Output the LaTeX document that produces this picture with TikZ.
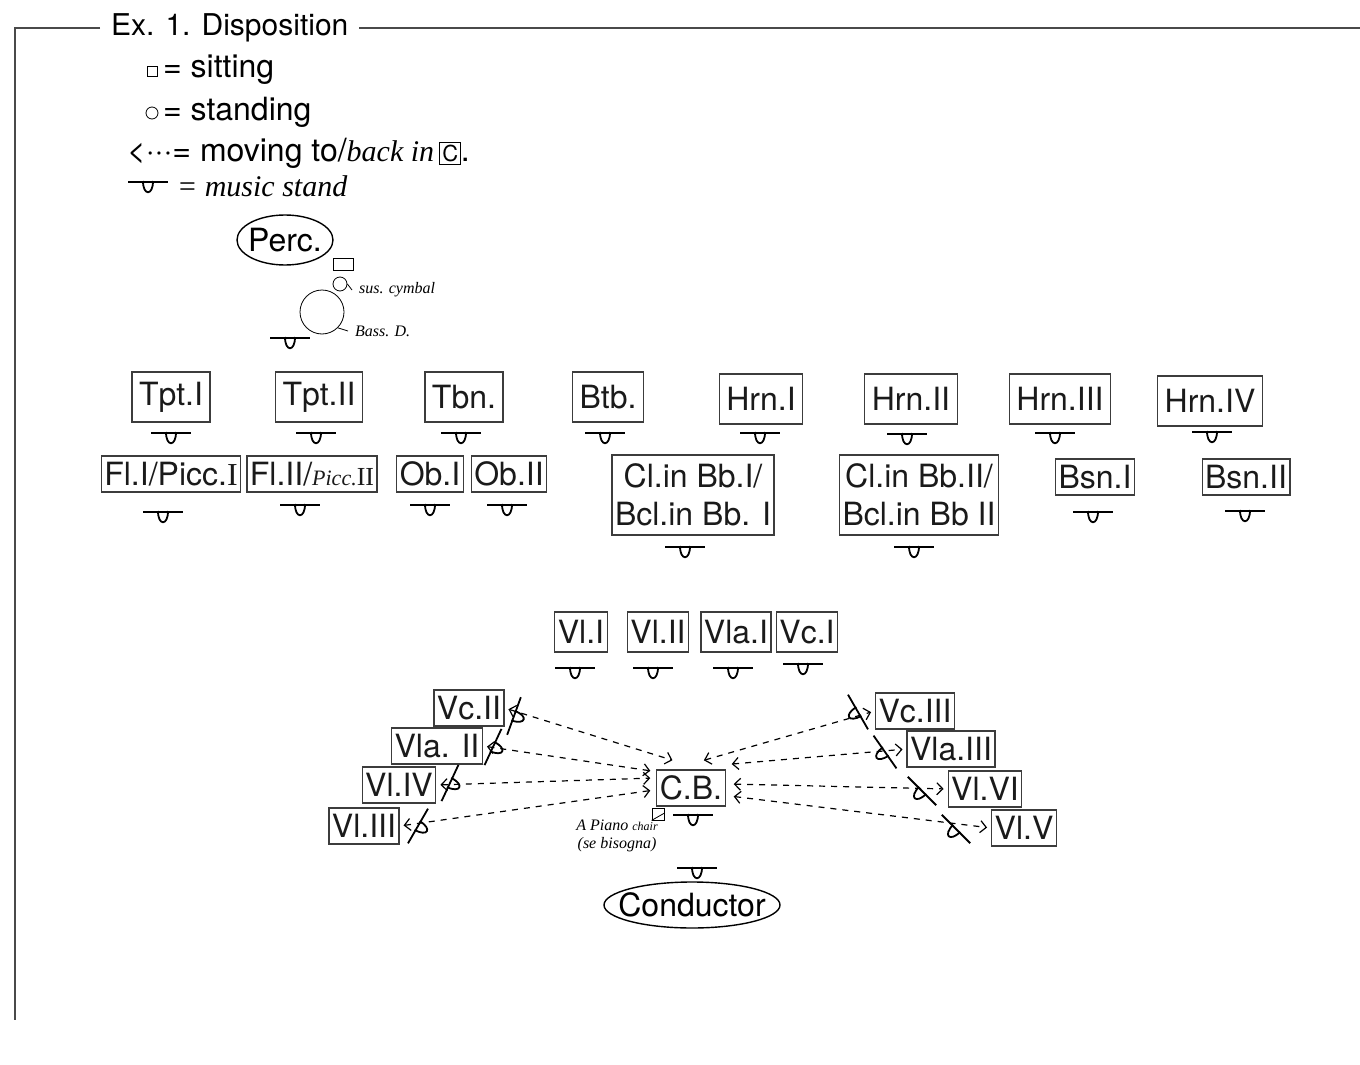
\documentclass[tikz,border=0pt]{standalone}
\usepackage{fontspec}
\setmainfont{TeX Gyre Heros}
\newfontfamily\handfont{Liberation Serif}
\usetikzlibrary{shapes.geometric, arrows.meta, calc}
\definecolor{dispInk}{HTML}{1A1A1A}
\definecolor{dispRule}{HTML}{4A4A4A}
\setlength{\fboxsep}{1pt}

\tikzset{
  musicstand/.pic={
    \draw[line width=0.9pt] (-20,0) -- (20,0);
    \draw[line width=0.9pt] (-5,-1) .. controls (-5,14) and (5,14) .. (5,-1);
  }
}

\begin{document}
\begin{tikzpicture}[x=0.5pt, y=-0.5pt,
  player/.style={draw=dispInk!85, line width=0.6pt, text=dispInk,
    font=\fontsize{16}{19}\selectfont, inner xsep=1.5pt, inner ysep=1pt,
    minimum height=18pt, align=center},
  brassbox/.style={player, minimum height=25pt, inner xsep=3.5pt},
  move/.style={dashed, line width=0.6pt, shorten <=2pt, shorten >=2pt,
    {Straight Barb[length=3pt,width=6pt]}-{Straight Barb[length=3pt,width=6pt]}},
  frame/.style={dispRule, line width=0.7pt},
  handtxt/.style={font=\handfont\itshape\fontsize{8}{9}\selectfont},
  keytxt/.style={anchor=west, font=\fontsize{16}{19}\selectfont}]
  \useasboundingbox (0,0) rectangle (1360,1065);

  % frame and legend
  \node[keytxt, font=\fontsize{15}{18}\selectfont] (title) at (104,28) {Ex. 1. Disposition};
  \draw[frame] ($(title.west)+(-4,0)$) -- (15,28) -- (15,1020);
  \draw[frame] ($(title.east)+(4,0)$) -- (1360,28);
  \node[draw, minimum size=5pt, inner sep=0pt] (sitsym) at (152,71) {};
  \node[keytxt] (sitlbl) at (156,70) {= sitting};
  \node[draw, circle, minimum size=6pt, inner sep=0pt] (standsym) at (152,113) {};
  \node[keytxt] (standlbl) at (156,112) {= standing};
  \node[keytxt] (movelbl) at (120,153)
    {<···= moving to/{\handfont\itshape\fontsize{15}{17}\selectfont back in}\,\fbox{\fontsize{11}{12}\selectfont C}.};
  \pic at (148,182) {musicstand};
  \node[anchor=west, font=\handfont\itshape\fontsize{15}{17}\selectfont] (standkey) at (170,186) {= music stand};

  % percussion
  \node[font=\fontsize{16}{19}\selectfont] (perc) at (285,240) {Perc.};
  \draw[line width=0.7pt] (perc.center) ellipse [x radius=24pt, y radius=12.5pt];
  \node[draw, minimum width=10pt, minimum height=6pt, inner sep=0pt] (cymrest) at (343,264) {};
  \node[draw, circle, minimum size=7pt, inner sep=0pt] (cym) at (340,284) {};
  \node[handtxt, anchor=west] (cymlbl) at (352,290) {sus. cymbal};
  \draw (cym.east) -- (cymlbl.west);
  \node[draw, circle, minimum size=22pt, inner sep=0pt] (bd) at (322,312) {};
  \node[handtxt, anchor=west] (bdlbl) at (348,331) {Bass. D.};
  \draw (bd.south east) -- (bdlbl.west);
  \pic at (290,338) {musicstand};

  % brass
  \node[brassbox] (tptI) at (171,397) {Tpt.I};
  \node[brassbox] (tptII) at (319,397) {Tpt.II};
  \node[brassbox] (tbn) at (464,397) {Tbn.};
  \node[brassbox] (btb) at (608,397) {Btb.};
  \node[brassbox] (hrnI) at (761,399) {Hrn.I};
  \node[brassbox] (hrnII) at (911,399) {Hrn.II};
  \node[brassbox] (hrnIII) at (1060,399) {Hrn.III};
  \node[brassbox] (hrnIV) at (1210,401) {Hrn.IV};
  \pic at (171,433) {musicstand};
  \pic at (316,433) {musicstand};
  \pic at (461,433) {musicstand};
  \pic at (605,433) {musicstand};
  \pic at (760,433) {musicstand};
  \pic at (907,434) {musicstand};
  \pic at (1055,433) {musicstand};
  \pic at (1212,432) {musicstand};

  % woodwinds
  \node[player] (flI) at (171,474) {Fl.I/Picc.{\handfont I}};
  \node[player] (flII) at (312,474) {Fl.II/{\handfont\itshape\fontsize{11}{13}\selectfont Picc.}{\handfont\fontsize{13}{15}\selectfont II}};
  \node[player] (obI) at (430,474) {Ob.I};
  \node[player] (obII) at (509,474) {Ob.II};
  \node[player, minimum height=40pt] (clI) at (693,495) {Cl.in Bb.I/\\Bcl.in Bb. I};
  \node[player, minimum height=40pt] (clII) at (919,495) {Cl.in Bb.II/\\Bcl.in Bb II};
  \node[player] (bsnI) at (1095,477) {Bsn.I};
  \node[player] (bsnII) at (1246,477) {Bsn.II};
  \pic at (163,512) {musicstand};
  \pic at (300,505) {musicstand};
  \pic at (430,505) {musicstand};
  \pic at (507,505) {musicstand};
  \pic at (685,547) {musicstand};
  \pic at (914,547) {musicstand};
  \pic at (1093,512) {musicstand};
  \pic at (1245,511) {musicstand};

  % strings
  \node[player, minimum height=20pt] (vlI) at (581,632) {Vl.I};
  \node[player, minimum height=20pt] (vlII) at (658,632) {Vl.II};
  \node[player, minimum height=20pt] (vlaI) at (736,632) {Vla.I};
  \node[player, minimum height=20pt] (vcI) at (807,632) {Vc.I};
  \pic at (575,668) {musicstand};
  \pic at (653,668) {musicstand};
  \pic at (733,668) {musicstand};
  \pic at (803,664) {musicstand};

  \node[player] (cb) at (691,788) {C.B.};
  \node[player] (vcII) at (469,708) {Vc.II};
  \node[player] (vlaII) at (437,746) {Vla. II};
  \node[player] (vlIV) at (399,785) {Vl.IV};
  \node[player] (vlIII) at (364,826) {Vl.III};
  \node[player] (vcIII) at (915,711) {Vc.III};
  \node[player] (vlaIII) at (951,749) {Vla.III};
  \node[player] (vlVI) at (985,789) {Vl.VI};
  \node[player] (vlV) at (1024,828) {Vl.V};

  \draw[move] (vcII.east) -- ($(cb.north west)+(20,-8)$);
  \draw[move] (vlaII.east) -- ($(cb.north west)+(-2,2)$);
  \draw[move] (vlIV.east) -- ($(cb.west)+(-2,-10)$);
  \draw[move] (vlIII.east) -- ($(cb.west)+(-2,2)$);
  \draw[move] ($(cb.north)+(9,-8)$) -- (vcIII.west);
  \draw[move] ($(cb.north east)+(2,-5)$) -- (vlaIII.west);
  \draw[move] ($(cb.east)+(4,-4)$) -- (vlVI.west);
  \draw[move] ($(cb.east)+(4,8)$) -- (vlV.west);

  \pic[rotate=70] at (514,716) {musicstand};
  \pic[rotate=65] at (493,747) {musicstand};
  \pic[rotate=65] at (450,783) {musicstand};
  \pic[rotate=60] at (418,826) {musicstand};
  \pic[rotate=-60] at (858,712) {musicstand};
  \pic[rotate=-55] at (885,752) {musicstand};
  \pic[rotate=-45] at (922,791) {musicstand};
  \pic[rotate=-45] at (956,829) {musicstand};
  \pic at (693,815) {musicstand};

  % piano chair and conductor
  \node[draw, minimum size=6pt, inner sep=0pt] (pchair) at (658,814) {};
  \node[handtxt, align=center] (pchairlbl) at (617,836) {A Piano {\fontsize{6}{7}\selectfont chair}\\(se bisogna)};
  \draw[line width=0.4pt] (pchair.south west) -- (pchairlbl.north east);
  \pic at (697,868) {musicstand};
  \node[font=\fontsize{16}{19}\selectfont] (conductor) at (692,905) {Conductor};
  \draw[line width=0.7pt] (conductor.center) ellipse [x radius=44pt, y radius=11.5pt];
\end{tikzpicture}
\end{document}
